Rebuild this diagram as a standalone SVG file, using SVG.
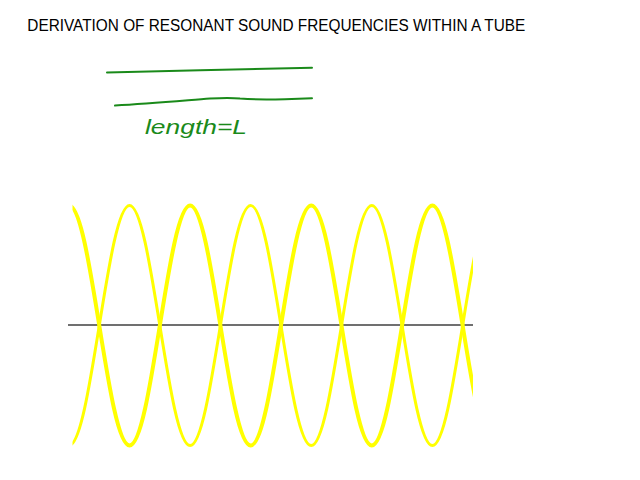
<svg xmlns="http://www.w3.org/2000/svg" width="640" height="480" viewBox="0 0 640 480">
<style>
.title{font-family:"Liberation Sans","Noto Sans",Arial,sans-serif;font-size:16px;fill:#000}
.hand{font-family:"Liberation Sans","DejaVu Sans",sans-serif;font-style:italic;font-size:21px;fill:#1a8a1a}
.ink{fill:none;stroke:#1a8a1a;stroke-width:2;stroke-linecap:round}
.wave{fill:none;stroke:#ffff00;stroke-linecap:butt}
</style>
<defs>
<clipPath id="clip"><rect x="72.5" y="190" width="400.5" height="270"/></clipPath>
</defs>
<rect width="640" height="480" fill="#fff"/>
<text id="title" class="title" x="27.3" y="31.3" textLength="498" lengthAdjust="spacingAndGlyphs">DERIVATION OF RESONANT SOUND FREQUENCIES WITHIN A TUBE</text>
<g id="tube">
<path class="ink" d="M107,72.4 C140,71.6 170,70.8 200,70.2 C240,69.4 280,68.4 312,67.7"/>
<path class="ink" d="M115,105.6 C150,103.6 185,100.5 210,98.6 C222,97.8 232,97.6 240,98.6 C255,99.8 270,99.6 285,99.2 C295,98.8 305,98.4 312,98.2"/>
<text class="hand" x="145" y="134" textLength="102" lengthAdjust="spacingAndGlyphs">length=L</text>
</g>
<g id="axis">
<line x1="68" y1="325" x2="473" y2="325" stroke="#404040" stroke-width="1.3"/>
</g>
<g id="waves" clip-path="url(#clip)">
<path class="wave" stroke-width="4" d="M69,205.5
c10.96,0 20.4,58.52 30.28,120 c9.88,61.48 19.32,120 30.28,120 c10.96,0 20.4,-58.52 30.28,-120 c9.88,-61.48 19.32,-120 30.28,-120
c10.96,0 20.4,58.52 30.28,120 c9.88,61.48 19.32,120 30.28,120 c10.96,0 20.4,-58.52 30.28,-120 c9.88,-61.48 19.32,-120 30.28,-120
c10.96,0 20.4,58.52 30.28,120 c9.88,61.48 19.32,120 30.28,120 c10.96,0 20.4,-58.52 30.28,-120 c9.88,-61.48 19.32,-120 30.28,-120
c10.96,0 20.4,58.52 30.28,120 c9.88,61.48 19.32,120 30.28,120 c10.96,0 20.4,-58.52 30.28,-120 c9.88,-61.48 19.32,-120 30.28,-120"/>
<path class="wave" stroke-width="3" d="M69,445.5
c10.96,0 20.4,-58.52 30.28,-120 c9.88,-61.48 19.32,-120 30.28,-120 c10.96,0 20.4,58.52 30.28,120 c9.88,61.48 19.32,120 30.28,120
c10.96,0 20.4,-58.52 30.28,-120 c9.88,-61.48 19.32,-120 30.28,-120 c10.96,0 20.4,58.52 30.28,120 c9.88,61.48 19.32,120 30.28,120
c10.96,0 20.4,-58.52 30.28,-120 c9.88,-61.48 19.32,-120 30.28,-120 c10.96,0 20.4,58.52 30.28,120 c9.88,61.48 19.32,120 30.28,120
c10.96,0 20.4,-58.52 30.28,-120 c9.88,-61.48 19.32,-120 30.28,-120 c10.96,0 20.4,58.52 30.28,120 c9.88,61.48 19.32,120 30.28,120"/>
</g>
</svg>
